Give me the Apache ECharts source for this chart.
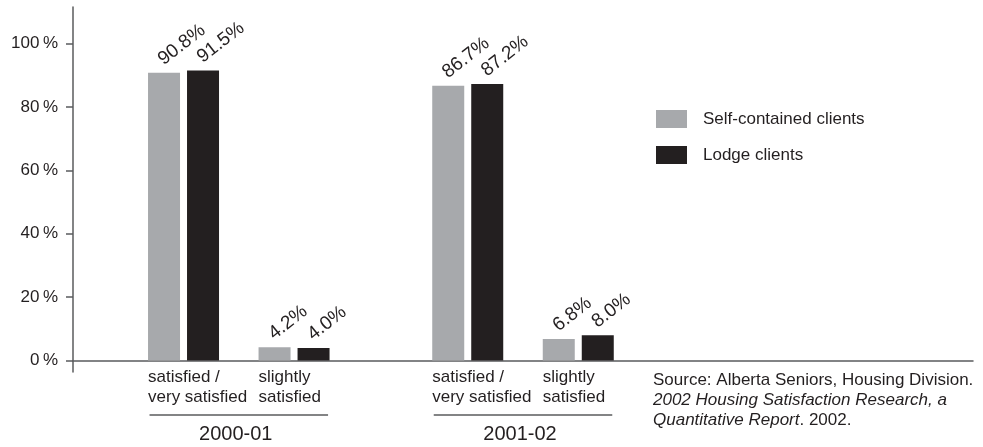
<!DOCTYPE html>
<html>
<head>
<meta charset="utf-8">
<script src="https://cdn.jsdelivr.net/npm/echarts@6/dist/echarts.min.js"></script>
<style>
  html, body { margin: 0; padding: 0; background: #ffffff; }
  #chart { width: 983px; height: 447px; }
</style>
</head>
<body>
<div id="chart"></div>
<script>
// ---- data ----
const periods = ['2000-01', '2001-02'];
const responseLabels = ['satisfied /\nvery satisfied', 'slightly\nsatisfied'];
// horizontal slot of each bar pair (two responses per period)
const slots = [7, 14, 25, 32];
const seriesNames = ['Self-contained clients', 'Lodge clients'];
const selfContained = [90.8, 4.2, 86.7, 6.8];
const lodge = [91.5, 4.0, 87.2, 8.0];
const yTicks = [0, 20, 40, 60, 80, 100];
const sourceLines = [
  'Source: Alberta Seniors, Housing Division.',
  '2002 Housing Satisfaction Research, a',
  'Quantitative Report',
  '. 2002.'
];

// ---- style ----
const FONT = "'Liberation Sans', Arial, sans-serif";
const INK = '#231f20';
const AXIS = '#5a5b5d';
const GREY = '#a7a9ac';
const BLACK = '#231f20';
const BAR_W = 32;
const BAR_GAP_PX = 7;

const chart = echarts.init(document.getElementById('chart'), null, { renderer: 'canvas' });

function pairs(values) {
  return values.map((v, i) => [slots[i], v]);
}

const valueLabel = {
  show: true,
  position: 'top',
  distance: 2,
  rotate: 38,
  align: 'left',
  verticalAlign: 'bottom',
  offset: [3, 0],
  color: INK,
  fontFamily: FONT,
  fontSize: 19,
  formatter: p => p.value[1].toFixed(1) + '%'
};

const option = {
  animation: false,
  backgroundColor: '#ffffff',
  textStyle: { fontFamily: FONT, color: INK },
  grid: { left: 73, right: 10, top: 7, bottom: 75 },
  xAxis: {
    type: 'value',
    min: 0,
    max: 57,
    axisLine: { show: true, onZero: true, lineStyle: { color: AXIS, width: 1.5 } },
    axisTick: { show: false },
    axisLabel: { show: false },
    splitLine: { show: false }
  },
  yAxis: {
    type: 'value',
    min: -3.6,
    max: 111.5,
    axisLine: { show: true, lineStyle: { color: AXIS, width: 1.5 } },
    axisTick: { show: true, length: 7, customValues: yTicks, lineStyle: { color: AXIS, width: 1.5 } },
    axisLabel: {
      customValues: yTicks,
      margin: 15,
      fontFamily: FONT,
      fontSize: 17,
      color: INK,
      formatter: v => v + '\u2009%'
    },
    splitLine: { show: false }
  },
  legend: {
    data: seriesNames,
    orient: 'vertical',
    left: 656,
    top: 110,
    padding: 0,
    itemWidth: 31,
    itemHeight: 18,
    itemGap: 18,
    icon: 'rect',
    selectedMode: false,
    textStyle: { fontFamily: FONT, fontSize: 17, color: INK, padding: [0, 0, 0, 11] }
  },
  series: [
    {
      name: seriesNames[0],
      type: 'bar',
      data: pairs(selfContained),
      barWidth: BAR_W,
      barGap: (BAR_GAP_PX / BAR_W * 100) + '%',
      itemStyle: { color: GREY },
      label: valueLabel,
      emphasis: { disabled: true }
    },
    {
      name: seriesNames[1],
      type: 'bar',
      data: pairs(lodge),
      barWidth: BAR_W,
      barGap: (BAR_GAP_PX / BAR_W * 100) + '%',
      itemStyle: { color: BLACK },
      label: valueLabel,
      emphasis: { disabled: true }
    }
  ]
};

chart.setOption(option);

// ---- category labels, period brackets and source note ----
const half = BAR_W + BAR_GAP_PX / 2;
const graphics = [];
slots.forEach((s, i) => {
  const cx = chart.convertToPixel({ xAxisIndex: 0 }, s);
  graphics.push({
    type: 'text',
    silent: true,
    style: {
      x: cx - half,
      y: 387,
      text: responseLabels[i % 2],
      font: '17px ' + FONT,
      fill: INK,
      align: 'left',
      verticalAlign: 'middle',
      lineHeight: 20
    }
  });
});
periods.forEach((p, g) => {
  const x1 = chart.convertToPixel({ xAxisIndex: 0 }, slots[2 * g]) - half + 1.5;
  const x2 = chart.convertToPixel({ xAxisIndex: 0 }, slots[2 * g + 1]) + half - 1.5;
  graphics.push({
    type: 'line',
    silent: true,
    shape: { x1: x1, y1: 415, x2: x2, y2: 415 },
    style: { stroke: AXIS, lineWidth: 1.5 }
  });
  graphics.push({
    type: 'text',
    silent: true,
    style: {
      x: (x1 + x2) / 2 - 3,
      y: 434,
      text: p,
      font: '20px ' + FONT,
      fill: INK,
      align: 'center',
      verticalAlign: 'middle'
    }
  });
});
graphics.push({
  type: 'text',
  silent: true,
  style: {
    x: 653,
    y: 400,
    text: '{n|' + sourceLines[0] + '}\n{i|' + sourceLines[1] + '}\n{i|' + sourceLines[2] + '}{n|' + sourceLines[3] + '}',
    align: 'left',
    verticalAlign: 'middle',
    fill: INK,
    rich: {
      n: { fontFamily: FONT, fontSize: 17, lineHeight: 20, fill: INK, color: INK },
      i: { fontFamily: FONT, fontSize: 17, fontStyle: 'italic', lineHeight: 20, fill: INK, color: INK }
    }
  }
});

chart.setOption({ graphic: graphics });
</script>
</body>
</html>
